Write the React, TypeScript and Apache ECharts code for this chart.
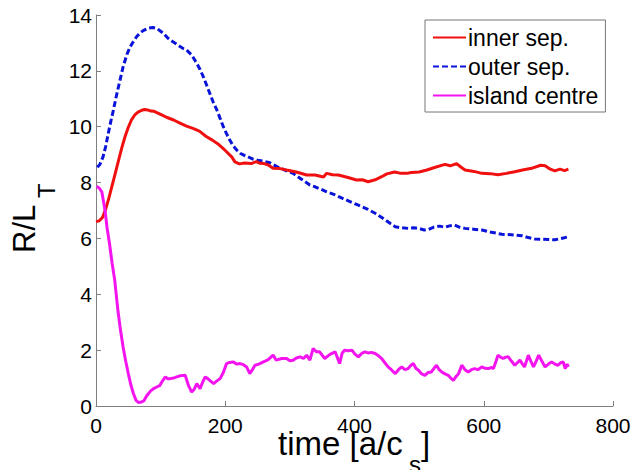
import React, { useEffect, useRef } from "react";
import * as echarts from "echarts";

const xTicks = [0, 200, 400, 600, 800];
const yTicks = [0, 2, 4, 6, 8, 10, 12, 14];
const seriesNames = ["inner sep.", "outer sep.", "island centre"];

const innerSep: [number, number][] = [
  [0, 6.6], [5, 6.63], [10, 6.75], [15, 7.05], [20, 7.45], [25, 7.9], [30, 8.35], [35, 8.8],
  [40, 9.25], [45, 9.65], [50, 9.98], [55, 10.25], [60, 10.42], [65, 10.52], [70, 10.58],
  [75, 10.62], [80, 10.6], [85, 10.56], [90, 10.55], [100, 10.44], [110, 10.33], [120, 10.24],
  [130, 10.13], [140, 10.02], [150, 9.94], [160, 9.84], [170, 9.66], [180, 9.52], [190, 9.36],
  [200, 9.15], [210, 8.92], [215, 8.74], [222, 8.67], [230, 8.7], [240, 8.68], [248, 8.75],
  [254, 8.69], [260, 8.68], [266, 8.64], [274, 8.51], [285, 8.5], [295, 8.45], [310, 8.38],
  [326, 8.27], [339, 8.27], [352, 8.2], [357, 8.33], [366, 8.28], [375, 8.27], [390, 8.18],
  [403, 8.09], [412, 8.1], [421, 8.03], [432, 8.1], [442, 8.21], [450, 8.31], [462, 8.38],
  [472, 8.33], [481, 8.33], [488, 8.36], [500, 8.38], [512, 8.45], [525, 8.55], [540, 8.65],
  [548, 8.6], [558, 8.68], [565, 8.55], [571, 8.45], [585, 8.4], [597, 8.33], [610, 8.32],
  [622, 8.28], [635, 8.33], [648, 8.39], [660, 8.45], [674, 8.51], [688, 8.62], [695, 8.6],
  [703, 8.48], [710, 8.42], [718, 8.48], [725, 8.43], [731, 8.48],
];

const outerSep: [number, number][] = [
  [2, 8.55], [6, 8.65], [11, 8.93], [15, 9.3], [19, 9.76], [23, 10.2], [27, 10.6], [31, 11.05],
  [35, 11.45], [42, 12.15], [48, 12.6], [53, 12.87], [58, 13.05], [63, 13.23], [68, 13.35],
  [73, 13.44], [81, 13.53], [88, 13.55], [94, 13.52], [100, 13.42], [104, 13.35], [110, 13.2],
  [115, 13.1], [122, 13.0], [130, 12.87], [135, 12.8], [140, 12.75], [148, 12.57], [156, 12.27],
  [161, 12.05], [166, 11.79], [171, 11.5], [176, 11.2], [181, 10.9], [187, 10.6], [192, 10.3],
  [197, 10.0], [202, 9.75], [207, 9.52], [212, 9.32], [218, 9.16], [223, 9.05], [228, 8.99],
  [235, 8.92], [243, 8.84], [250, 8.8], [259, 8.77], [269, 8.71], [280, 8.57], [292, 8.45],
  [305, 8.33], [318, 8.12], [331, 7.91], [339, 7.85], [348, 7.76], [357, 7.67], [368, 7.58],
  [380, 7.45], [393, 7.32], [406, 7.19], [420, 7.05], [432, 6.9], [444, 6.72], [455, 6.54],
  [463, 6.42], [470, 6.39], [483, 6.36], [492, 6.38], [501, 6.35], [508, 6.3], [514, 6.32],
  [522, 6.4], [532, 6.44], [540, 6.4], [547, 6.45], [555, 6.48], [563, 6.4], [571, 6.36],
  [584, 6.33], [597, 6.3], [612, 6.22], [628, 6.15], [643, 6.13], [659, 6.1], [669, 6.03],
  [679, 5.98], [690, 5.97], [700, 5.96], [710, 5.95], [720, 6.0], [731, 6.06],
];

const islandCentre: [number, number][] = [
  [1, 7.87], [5, 7.8], [9, 7.67], [14, 7.0], [17, 6.4], [21, 5.8], [25, 5.1], [29, 4.5],
  [34, 3.4], [38, 2.7], [42, 2.1], [46, 1.6], [50, 1.16], [54, 0.75], [58, 0.44], [62, 0.2],
  [66, 0.12], [70, 0.14], [74, 0.18], [78, 0.35], [81, 0.44], [85, 0.55], [89, 0.62], [94, 0.68],
  [99, 0.74], [103, 0.9], [107, 1.04], [111, 0.98], [115, 0.98], [120, 1.0], [125, 1.04],
  [130, 1.08], [138, 1.1], [143, 0.74], [148, 0.5], [152, 0.6], [156, 0.8], [161, 0.62],
  [165, 0.85], [169, 1.04], [173, 0.98], [176, 0.92], [182, 0.8], [187, 0.9], [192, 0.98],
  [197, 1.2], [202, 1.52], [207, 1.56], [212, 1.58], [218, 1.5], [223, 1.52], [228, 1.48],
  [233, 1.4], [238, 1.16], [242, 1.3], [246, 1.46], [252, 1.5], [259, 1.58], [266, 1.65],
  [274, 1.82], [279, 1.64], [287, 1.7], [295, 1.7], [300, 1.62], [305, 1.64], [310, 1.72],
  [316, 1.76], [321, 1.7], [326, 1.82], [331, 1.64], [336, 2.06], [341, 1.94], [346, 1.94],
  [354, 1.7], [362, 1.85], [370, 1.94], [377, 1.52], [381, 1.9], [385, 2.0], [390, 1.98],
  [396, 2.0], [401, 1.85], [406, 1.76], [411, 1.88], [416, 1.94], [421, 1.9], [426, 1.92],
  [432, 1.88], [437, 1.8], [442, 1.7], [447, 1.55], [452, 1.4], [457, 1.3], [463, 1.16],
  [468, 1.3], [473, 1.4], [478, 1.3], [483, 1.34], [487, 1.45], [491, 1.52], [495, 1.35],
  [499, 1.28], [504, 1.15], [509, 1.1], [514, 1.2], [519, 1.22], [523, 1.35], [527, 1.46],
  [531, 1.3], [535, 1.22], [540, 1.15], [545, 1.1], [549, 1.0], [553, 0.92], [557, 1.05],
  [561, 1.16], [566, 1.46], [571, 1.3], [576, 1.22], [581, 1.3], [586, 1.34], [591, 1.3],
  [597, 1.4], [602, 1.35], [607, 1.34], [612, 1.38], [615, 1.34], [619, 1.6], [622, 1.82],
  [626, 1.75], [630, 1.7], [634, 1.75], [638, 1.76], [643, 1.6], [648, 1.46], [652, 1.55],
  [656, 1.64], [660, 1.5], [663, 1.4], [666, 1.6], [669, 1.82], [673, 1.6], [677, 1.4],
  [681, 1.6], [685, 1.82], [690, 1.6], [695, 1.4], [700, 1.5], [705, 1.58], [710, 1.5],
  [715, 1.46], [719, 1.55], [723, 1.58], [726, 1.34], [729, 1.5], [731, 1.4],
];

const FONT = "'Liberation Sans', Arial, Helvetica, sans-serif";

export default function App() {
  const ref = useRef<HTMLDivElement>(null);
  useEffect(() => {
    if (!ref.current) return;
    const chart = echarts.init(ref.current, null, { renderer: "svg" });
    const axisLine = { show: true, lineStyle: { color: "#808080", width: 1 } };
    chart.setOption({
      animation: false,
      backgroundColor: "#ffffff",
      textStyle: { fontFamily: FONT },
      grid: { left: 96, right: 22, top: 15, bottom: 64, containLabel: false },
      xAxis: {
        type: "value",
        min: xTicks[0],
        max: xTicks[xTicks.length - 1],
        interval: 200,
        axisLine,
        axisTick: { show: true, inside: true, length: 5, lineStyle: { color: "#808080" } },
        splitLine: { show: false },
        axisLabel: { color: "#000", fontSize: 21, fontFamily: FONT, margin: 9 },
      },
      yAxis: {
        type: "value",
        min: yTicks[0],
        max: yTicks[yTicks.length - 1],
        interval: 2,
        axisLine,
        axisTick: { show: true, inside: true, length: 5, lineStyle: { color: "#808080" } },
        splitLine: { show: false },
        axisLabel: { color: "#000", fontSize: 21, fontFamily: FONT, margin: 4 },
      },
      legend: {
        orient: "vertical",
        left: 425,
        top: 20,
        width: 183,
        backgroundColor: "#fff",
        borderColor: "#777",
        borderWidth: 1,
        borderRadius: 0,
        padding: [3, 7, 2, 7],
        itemGap: 0,
        itemWidth: 33,
        itemHeight: 14,
        itemStyle: { color: "transparent", borderWidth: 0, opacity: 0 },
        textStyle: { fontSize: 23, lineHeight: 29, color: "#000", fontFamily: FONT, padding: [0, 0, 0, -3] },
        data: seriesNames,
      },
      series: [
        {
          name: seriesNames[0],
          type: "line",
          data: innerSep,
          showSymbol: false,
          symbol: "none",
          lineStyle: { color: "#f01010", width: 3 },
          itemStyle: { color: "#f01010" },
          z: 3,
        },
        {
          name: seriesNames[1],
          type: "line",
          data: outerSep,
          showSymbol: false,
          symbol: "none",
          lineStyle: { color: "#0a14d8", width: 3, type: [6, 3] },
          itemStyle: { color: "#0a14d8" },
          z: 2,
        },
        {
          name: seriesNames[2],
          type: "line",
          data: islandCentre,
          showSymbol: false,
          symbol: "none",
          lineStyle: { color: "#f414f0", width: 3 },
          itemStyle: { color: "#f414f0" },
          z: 4,
        },
      ],
      graphic: [
        {
          type: "group",
          x: 24,
          y: 253,
          rotation: Math.PI / 2,
          children: [
            {
              type: "text",
              x: 0,
              y: 0,
              style: { text: "R/L", font: `31px ${FONT}`, fill: "#000", align: "left", verticalAlign: "middle" },
            },
            {
              type: "text",
              x: 55,
              y: 22,
              style: { text: "T", font: `24px ${FONT}`, fill: "#000", align: "left", verticalAlign: "middle" },
            },
          ],
        },
        {
          type: "text",
          x: 278,
          y: 443,
          style: { text: "time [a/c", font: `33px ${FONT}`, fill: "#000", align: "left", verticalAlign: "middle" },
        },
        {
          type: "text",
          x: 409,
          y: 464,
          style: { text: "s", font: `24px ${FONT}`, fill: "#000", align: "left", verticalAlign: "middle" },
        },
        {
          type: "text",
          x: 421,
          y: 443,
          style: { text: "]", font: `33px ${FONT}`, fill: "#000", align: "left", verticalAlign: "middle" },
        },
      ],
    });
    return () => chart.dispose();
  }, []);
  return (
    <div
      ref={ref}
      style={{ position: "absolute", left: 0, top: 0, width: 635, height: 470, background: "#fff" }}
    />
  );
}
